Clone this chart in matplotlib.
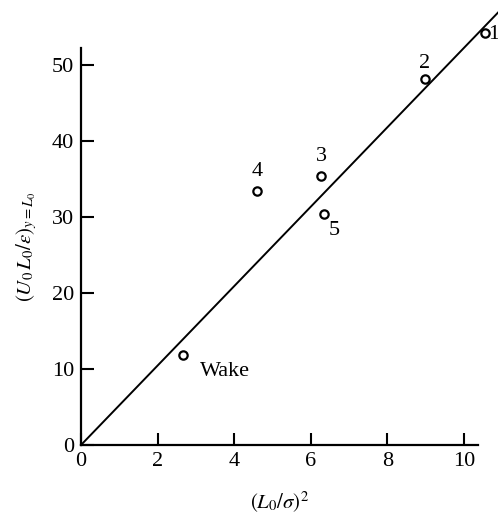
import matplotlib
matplotlib.use("Agg")
import matplotlib.pyplot as plt
import numpy as np

plt.rcParams['font.family'] = ['Liberation Serif', 'DejaVu Serif']
plt.rcParams['mathtext.fontset'] = 'stix'

# data
x_vals = [10.55, 8.98, 6.28, 4.60, 6.34, 2.67]
y_vals = [54.3, 48.2, 35.4, 33.5, 30.4, 11.9]
labels = ['1', '2', '3', '4', '5', 'Wake']
label_offsets = [(3, -2, 'left'), (0, 16, 'center'), (0, 20, 'center'),
                 (0, 19, 'center'), (11, -16, 'center'), (17, -17, 'left')]
fit_slope = 5.23
fit_x = [0, 10.9]

xticks = [0, 2, 4, 6, 8, 10]
yticks = [0, 10, 20, 30, 40, 50]

fig = plt.figure(figsize=(4.98, 5.24), dpi=100)
ax = fig.add_axes([81/498, (524-445)/524, 397/498, 397/524])
ax.set_xlim(0, 10.37)
ax.set_ylim(0, 52.3)

ax.plot(fit_x, [fit_slope * v for v in fit_x], color='black', lw=1.4, clip_on=False)
ax.plot(x_vals, y_vals, 'o', ms=6, mfc='white', mec='black', mew=1.6, clip_on=False, zorder=5)

for xv, yv, lab, (dx, dy, ha) in zip(x_vals, y_vals, labels, label_offsets):
    ax.annotate(lab, (xv, yv), xytext=(dx, dy), textcoords='offset pixels',
                ha=ha, va='center', fontsize=16, annotation_clip=False)

for s in ['top', 'right']:
    ax.spines[s].set_visible(False)
for s in ['left', 'bottom']:
    ax.spines[s].set_linewidth(1.6)

ax.set_xticks(xticks)
ax.set_yticks(yticks)
ax.tick_params(direction='in', length=9, width=1.5, labelsize=16, pad=5)

ax.set_xlabel(r'$(L_0/\sigma)^2$', fontsize=15, labelpad=14)
ax.set_ylabel(r'$(U_0\,L_0/\epsilon)_{y=L_0}$', fontsize=15, labelpad=9)

fig.savefig('out.png', dpi=100)
